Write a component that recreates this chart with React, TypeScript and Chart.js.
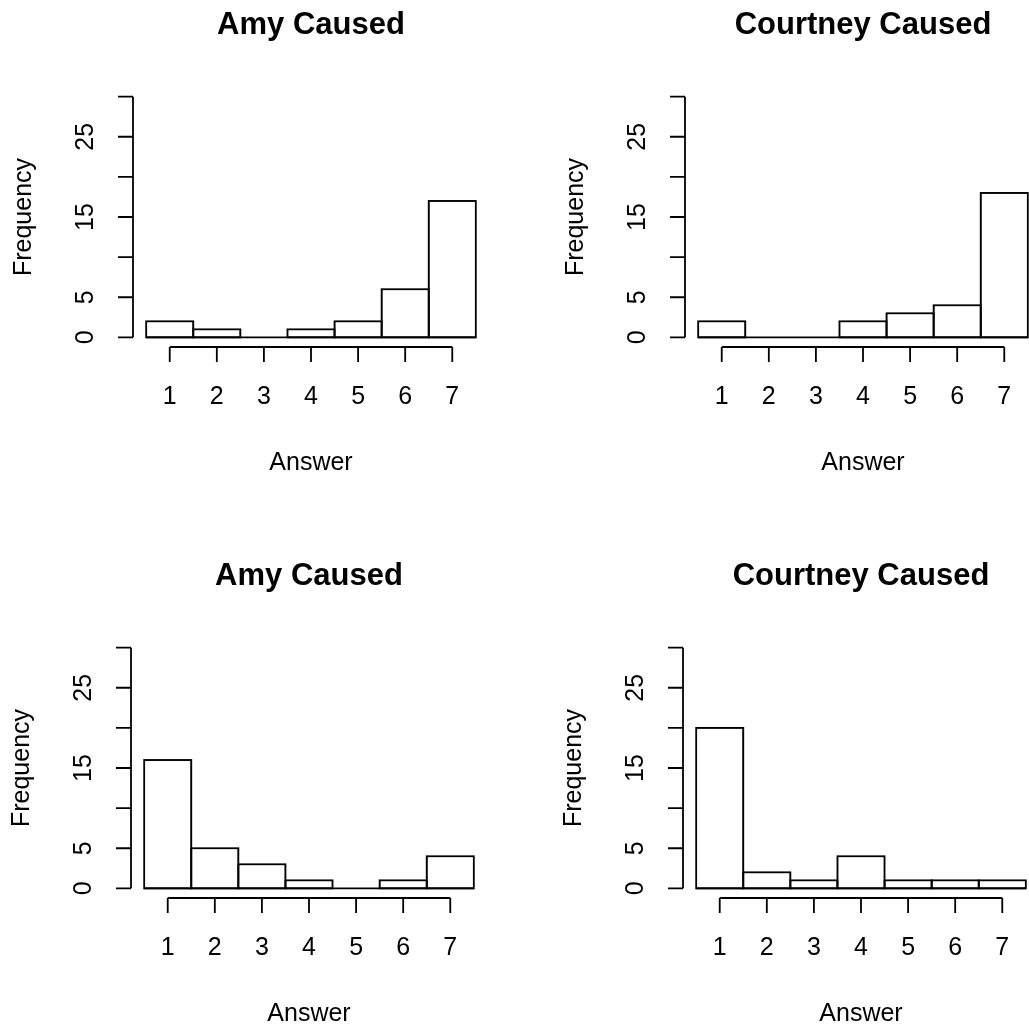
import React, { useEffect, useRef } from "react";
import { Chart, registerables } from "chart.js";

Chart.register(...registerables);

// ---- data ----
const answers = [1, 2, 3, 4, 5, 6, 7];
const xTickLabels = ["1", "2", "3", "4", "5", "6", "7"];
const amyCausedTop = [2, 1, 0, 1, 2, 6, 17];
const courtneyCausedTop = [2, 0, 0, 2, 3, 4, 18];
const amyCausedBottom = [16, 5, 3, 1, 0, 1, 4];
const courtneyCausedBottom = [20, 2, 1, 4, 1, 1, 1];
const yTicks = [0, 5, 10, 15, 20, 25, 30];
const yTickLabels = ["0", "5", "", "15", "", "25", ""];
const titles = ["Amy Caused", "Courtney Caused", "Amy Caused", "Courtney Caused"];
const xLabel = "Answer";
const yLabel = "Frequency";

const FONT = '"Liberation Sans", Arial, Helvetica, sans-serif';
const CW = 550;
const CH = 550;
const LW = 1.8;

const rAxesPlugin = {
  id: "rAxes",
  afterDatasetsDraw(chart: any) {
    const { ctx, scales } = chart;
    const x = scales.x;
    const y = scales.y;
    ctx.save();
    ctx.strokeStyle = "#000";
    ctx.lineWidth = LW;
    // R-style centred outlines on the library's bar elements
    const meta = chart.getDatasetMeta(0);
    meta.data.forEach((el: any) => {
      const p = el.getProps(["x", "y", "base", "width"], true);
      if (Math.abs(p.base - p.y) < 0.5) return;
      ctx.strokeRect(p.x - p.width / 2, Math.min(p.y, p.base), p.width, Math.abs(p.base - p.y));
    });
    // baseline across all bins (zero-count bins show as a line)
    ctx.beginPath();
    ctx.moveTo(x.getPixelForValue(answers[0] - 0.5), y.getPixelForValue(0));
    ctx.lineTo(x.getPixelForValue(answers[answers.length - 1] + 0.5), y.getPixelForValue(0));
    ctx.stroke();
    ctx.restore();
  },
  afterDraw(chart: any, _args: any, opts: any) {
    const { ctx, chartArea: a, scales } = chart;
    const x = scales.x;
    const y = scales.y;
    ctx.save();
    ctx.strokeStyle = "#000";
    ctx.fillStyle = "#000";
    ctx.lineWidth = LW;

    // y axis
    ctx.beginPath();
    ctx.moveTo(a.left, y.getPixelForValue(yTicks[0]));
    ctx.lineTo(a.left, y.getPixelForValue(yTicks[yTicks.length - 1]));
    yTicks.forEach((v) => {
      const py = y.getPixelForValue(v);
      ctx.moveTo(a.left, py);
      ctx.lineTo(a.left - 15, py);
    });
    ctx.stroke();

    ctx.font = `25px ${FONT}`;
    ctx.textAlign = "center";
    ctx.textBaseline = "alphabetic";
    yTicks.forEach((v, i) => {
      const lbl = yTickLabels[i];
      if (!lbl) return;
      ctx.save();
      ctx.translate(a.left - 40, y.getPixelForValue(v));
      ctx.rotate(-Math.PI / 2);
      ctx.fillText(lbl, 0, 0);
      ctx.restore();
    });

    // x axis
    ctx.beginPath();
    ctx.moveTo(x.getPixelForValue(answers[0]), a.bottom);
    ctx.lineTo(x.getPixelForValue(answers[answers.length - 1]), a.bottom);
    answers.forEach((v) => {
      const px = x.getPixelForValue(v);
      ctx.moveTo(px, a.bottom);
      ctx.lineTo(px, a.bottom + 15);
    });
    ctx.stroke();
    answers.forEach((v, i) => {
      ctx.fillText(xTickLabels[i], x.getPixelForValue(v), a.bottom + 57);
    });

    const cx = (a.left + a.right) / 2;
    const cy = (a.top + a.bottom) / 2;
    ctx.fillText(xLabel, cx, a.bottom + 123);

    ctx.save();
    ctx.translate(a.left - 102, cy);
    ctx.rotate(-Math.PI / 2);
    ctx.fillText(yLabel, 0, 0);
    ctx.restore();

    ctx.font = `bold 31px ${FONT}`;
    ctx.fillText(opts.title, cx, a.top - 53);
    ctx.restore();
  },
};

function Panel({ title, values, left, top }: { title: string; values: number[]; left: number; top: number }) {
  const ref = useRef<HTMLCanvasElement>(null);
  useEffect(() => {
    const chart = new Chart(ref.current as HTMLCanvasElement, {
      type: "bar",
      data: {
        datasets: [
          {
            data: answers.map((a, i) => ({ x: a, y: values[i] })),
            backgroundColor: "#ffffff",
            borderColor: "#000000",
            borderWidth: 1,
            borderSkipped: false,
            barPercentage: 1,
            categoryPercentage: 1,
          } as any,
        ],
      },
      options: {
        responsive: false,
        animation: false,
        events: [],
        layout: { padding: { left: 133, top: 87, right: CW - 489, bottom: CH - 347 } },
        plugins: {
          legend: { display: false },
          tooltip: { enabled: false },
          title: { display: false },
          rAxes: { title },
        } as any,
        scales: {
          x: {
            type: "linear",
            min: 0.22,
            max: 7.78,
            offset: false,
            display: false,
            ticks: { stepSize: 1, includeBounds: false },
          },
          y: { type: "linear", min: -1.2, max: 31.2, display: false },
        },
      },
      plugins: [rAxesPlugin as any],
    });
    return () => chart.destroy();
  }, []);
  return (
    <canvas
      ref={ref}
      width={CW}
      height={CH}
      style={{ position: "absolute", left, top, width: CW, height: CH }}
    />
  );
}

export default function App() {
  return (
    <div
      style={{
        position: "absolute",
        left: 0,
        top: 0,
        width: 1029,
        height: 1025,
        overflow: "hidden",
        background: "#fff",
      }}
    >
      <Panel title={titles[0]} values={amyCausedTop} left={0} top={0} />
      <Panel title={titles[1]} values={courtneyCausedTop} left={552} top={0} />
      <Panel title={titles[2]} values={amyCausedBottom} left={-2} top={551} />
      <Panel title={titles[3]} values={courtneyCausedBottom} left={550} top={551} />
    </div>
  );
}
